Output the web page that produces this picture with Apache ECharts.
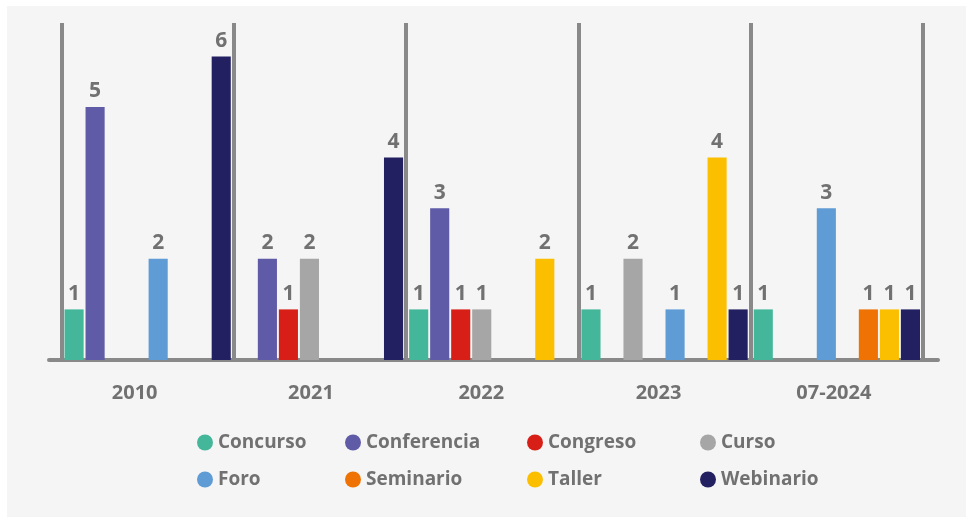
<!DOCTYPE html>
<html>
<head>
<meta charset="utf-8">
<script src="https://cdn.jsdelivr.net/npm/echarts@6/dist/echarts.min.js"></script>
<style>
  html, body { margin: 0; padding: 0; background: #ffffff; }
  .panel { position: absolute; left: 7px; top: 6px; right: 0; bottom: 0; background: #f5f5f5; }
  #chart { position: absolute; left: 0; top: 0; width: 966px; height: 517px; }
</style>
</head>
<body>
<div class="panel"></div>
<div id="chart"></div>
<script>
  // categorías (años)
  var years = ['2010', '2021', '2022', '2023', '07-2024']

  // valores por tipo de evento (tal como aparecen en la gráfica original:
  // en 2023 la barra gris ocupa el hueco de Congreso y en 07-2024 la azul el de Curso)
  var concurso    = [1, 0, 1, 1, 1]
  var conferencia = [5, 2, 3, 0, 0]
  var congreso    = [0, 1, 1, 2, 0]
  var curso       = [0, 2, 1, 0, 3]
  var foro        = [2, 0, 0, 1, 0]
  var seminario   = [0, 0, 0, 0, 1]
  var taller      = [0, 0, 2, 4, 1]
  var webinario   = [6, 4, 0, 1, 1]

  var seriesNames = ['Concurso', 'Conferencia', 'Congreso', 'Curso', 'Foro', 'Seminario', 'Taller', 'Webinario']
  var seriesData = [concurso, conferencia, congreso, curso, foro, seminario, taller, webinario]
  var colors = ['#44b79a', '#5f5ba7', '#d81f17', '#a6a6a6', '#5f9bd5', '#ee7304', '#fcbf00', '#232061']

  // puntos con color de otra serie (serie, índice de año, serie cuyo color lleva)
  var colorOverrides = [[2, 3, 3], [3, 4, 4]]

  var textColor = '#717171'
  var font = 'Open Sans'

  var chart = echarts.init(document.getElementById('chart'))

  var series = seriesNames.map(function (name, i) {
    var data = seriesData[i].map(function (v, j) {
      var item = { value: v }
      colorOverrides.forEach(function (o) {
        if (o[0] === i && o[1] === j) item.itemStyle = { color: colors[o[2]] }
      })
      return item
    })
    return {
      name: name,
      type: 'bar',
      xAxisIndex: 0,
      yAxisIndex: 0,
      data: data,
      itemStyle: { color: colors[i] },
      barGap: '10%',
      barCategoryGap: '3.5%',
      label: {
        show: true,
        position: 'top',
        distance: 5,
        color: textColor,
        fontFamily: font,
        fontWeight: 'bold',
        fontSize: 21,
        formatter: function (p) { return p.value ? p.value : '' }
      }
    }
  })

  // leyenda en 4 columnas, 2 filas
  var legendCols = [
    { left: 197, data: ['Concurso', 'Foro'] },
    { left: 345, data: ['Conferencia', 'Seminario'] },
    { left: 527, data: ['Congreso', 'Taller'] },
    { left: 700, data: ['Curso', 'Webinario'] }
  ]
  var legends = legendCols.map(function (c) {
    return {
      orient: 'vertical',
      left: c.left,
      top: 433,
      padding: 0,
      itemGap: 18,
      itemWidth: 16,
      itemHeight: 16,
      itemTextGap: 9,
      icon: 'circle',
      selectedMode: false,
      data: c.data,
      textStyle: { color: textColor, fontFamily: font, fontWeight: 'bold', fontSize: 19, lineHeight: 18 }
    }
  })

  // desplazamiento de cada etiqueta del eje (padding derecho)
  var labelShift = [26, 18, 22, 12, 6]
  var rich = {}
  labelShift.forEach(function (s, i) {
    rich['l' + i] = {
      color: textColor, fontFamily: font, fontWeight: 'bold', fontSize: 20,
      padding: [0, s, 0, 0]
    }
  })

  var option = {
    animation: false,
    backgroundColor: 'transparent',
    legend: legends,
    grid: [
      { left: 61.5, right: 43, top: 23, bottom: 157 },
      { left: 49, right: 28, top: 23, bottom: 157 }
    ],
    xAxis: [
      {
        type: 'category',
        gridIndex: 0,
        data: years,
        axisLine: { show: false },
        axisTick: { show: false },
        splitLine: { show: true, interval: 0, lineStyle: { color: '#898989', width: 4 } },
        axisLabel: {
          margin: 23,
          formatter: function (v, i) { return '{l' + i + '|' + v + '}' },
          rich: rich
        }
      },
      {
        type: 'category',
        gridIndex: 1,
        data: years,
        axisLine: { show: true, lineStyle: { color: '#898989', width: 4 } },
        axisTick: { show: false },
        axisLabel: { show: false },
        splitLine: { show: false }
      }
    ],
    yAxis: [
      { type: 'value', gridIndex: 0, min: 0, max: 6.66, show: false },
      { type: 'value', gridIndex: 1, min: 0, max: 6.66, show: false }
    ],
    series: series
  }

  chart.setOption(option)
</script>
</body>
</html>
